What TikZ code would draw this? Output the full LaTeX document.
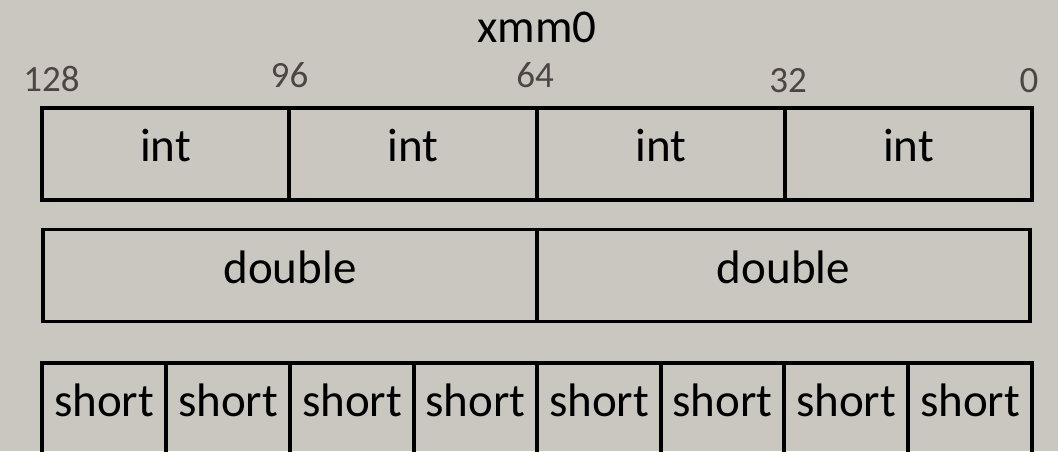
\documentclass[tikz,border=0pt]{standalone}
\usepackage{fontspec}
\setmainfont{Carlito}
\definecolor{bg}{RGB}{202,198,192}
\definecolor{bitgrey}{RGB}{75,70,68}
\tikzset{
  cell/.style={draw=black, line width=3.2pt, inner sep=0pt, outer sep=0pt,
    minimum height=92pt, text height=22pt, text depth=7pt,
    font=\fontsize{47}{56}\selectfont},
  bitno/.style={anchor=base, inner sep=0pt, text=bitgrey,
    font=\fontsize{37}{44}\selectfont},
  regname/.style={anchor=base, inner sep=0pt,
    font=\fontsize{47}{56}\selectfont}
}
\begin{document}
\begin{tikzpicture}[x=1pt, y=-1pt]
  \fill[bg] (0,0) rectangle (1058,451);
  \useasboundingbox (0,0) rectangle (1058,451);

  % register name and bit positions
  \node[regname] (reg) at (537,42) {xmm0};
  \node[bitno] (b128) at (51.5,91) {128};
  \node[bitno] (b96) at (289.5,87) {96};
  \node[bitno] (b64) at (535,87) {64};
  \node[bitno] (b32) at (788,92) {32};
  \node[bitno] (b0) at (1029,92) {0};

  % four 32-bit ints
  \node[cell, minimum width=247pt] (i3) at (165.5,154) {int};
  \node[cell, minimum width=248pt] (i2) at (413,154) {int};
  \node[cell, minimum width=248pt] (i1) at (661,154) {int};
  \node[cell, minimum width=247pt] (i0) at (908.5,154) {int};

  % two 64-bit doubles
  \node[cell, minimum width=494pt] (d1) at (290,275.5) {double};
  \node[cell, minimum width=493pt] (d0) at (783.5,275.5) {double};

  % eight 16-bit shorts
  \node[cell, minimum width=124pt] (s7) at (104,409) {short};
  \node[cell, minimum width=124pt] (s6) at (228,409) {short};
  \node[cell, minimum width=124pt] (s5) at (352,409) {short};
  \node[cell, minimum width=123pt] (s4) at (475.5,409) {short};
  \node[cell, minimum width=124pt] (s3) at (599,409) {short};
  \node[cell, minimum width=123pt] (s2) at (722.5,409) {short};
  \node[cell, minimum width=124pt] (s1) at (846,409) {short};
  \node[cell, minimum width=124pt] (s0) at (970,409) {short};
\end{tikzpicture}
\end{document}
